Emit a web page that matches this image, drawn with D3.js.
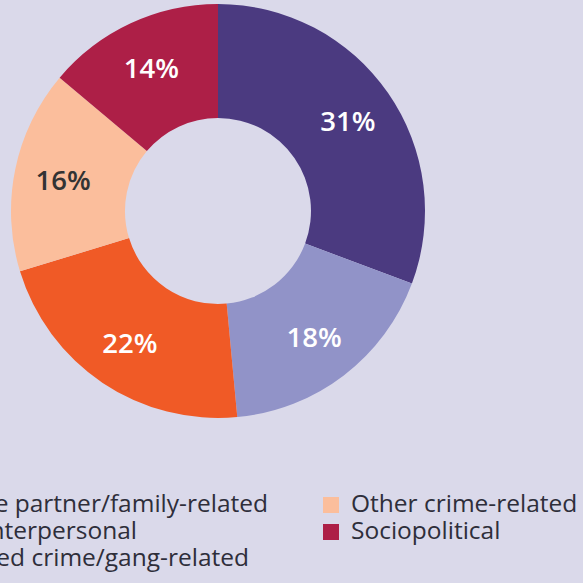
<!DOCTYPE html>
<html>
<head>
<meta charset="utf-8">
<script src="https://cdn.jsdelivr.net/npm/d3@7"></script>
<style>
  html, body { margin: 0; padding: 0; background: #dad9ea; }
  svg { display: block; font-family: "Open Sans", "Noto Sans", sans-serif; }
</style>
</head>
<body>
<svg id="chart" width="583" height="583"></svg>
<script>
// Data
const categories = ["Intimate partner/family-related", "Interpersonal", "Organized crime/gang-related", "Other crime-related", "Sociopolitical"];
const values = [31, 18, 22, 16, 14];
const colors = ["#4b3a80", "#9193c8", "#f05a26", "#fbbe9c", "#ad1f47"];
const labelColors = ["#ffffff", "#ffffff", "#ffffff", "#333333", "#ffffff"];
// legend order (two columns)
const legendCol1 = [0, 1, 2];
const legendCol2 = [3, 4];

const svg = d3.select("#chart");
const W = 583, H = 583;
svg.append("rect").attr("width", W).attr("height", H).attr("fill", "#dad9ea");

const cx = 218, cy = 211, outerR = 207, innerR = 93, labelR = 158;

const pie = d3.pie().sort(null).value(d => d.v);
const arcs = pie(values.map((v, i) => ({v, i})));
const arc = d3.arc().innerRadius(innerR).outerRadius(outerR);
const labelArc = d3.arc().innerRadius(labelR).outerRadius(labelR);

const g = svg.append("g").attr("transform", `translate(${cx},${cy})`);
g.selectAll("path").data(arcs).join("path")
  .attr("d", arc)
  .attr("fill", d => colors[d.data.i]);

g.selectAll("text").data(arcs).join("text")
  .attr("transform", d => `translate(${labelArc.centroid(d)})`)
  .attr("text-anchor", "middle")
  .attr("dominant-baseline", "central")
  .attr("font-size", 27.5)
  .attr("font-weight", 600)
  .attr("fill", d => labelColors[d.data.i])
  .text(d => d.data.v + "%");

// Legend
const fs = 24.5;
const rowY = [512, 539, 566];
const sq = 16;
// column 2 (visible squares)
const col2x = 323;
const leg2 = svg.append("g");
legendCol2.forEach((ci, r) => {
  leg2.append("rect").attr("x", col2x).attr("y", rowY[r] - 15).attr("width", sq).attr("height", sq).attr("fill", colors[ci]);
  leg2.append("text").attr("x", col2x + 28).attr("y", rowY[r]).attr("font-size", fs)
    .attr("fill", "#2e2e3a").text(categories[ci]);
});
// column 1 (mostly cut off at the left edge of the picture)
const col1Ends = [268, 137, 249];
const leg1 = svg.append("g");
legendCol1.forEach((ci, r) => {
  const t = leg1.append("text").attr("x", col1Ends[r]).attr("y", rowY[r]).attr("font-size", fs)
    .attr("text-anchor", "end").attr("fill", "#2e2e3a").text(categories[ci]);
  const bb = t.node().getBBox();
  leg1.append("rect").attr("x", bb.x - 28).attr("y", rowY[r] - 15).attr("width", sq).attr("height", sq).attr("fill", colors[ci]);
});
</script>
</body>
</html>
